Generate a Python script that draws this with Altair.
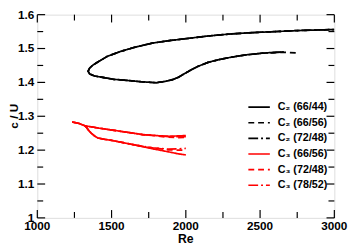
import altair as alt
import pandas as pd

FONT = "Liberation Sans"

series_names = ["C₂ (66/44)", "C₂ (66/56)", "C₂ (72/48)", "C₃ (66/56)", "C₃ (72/48)", "C₃ (78/52)"]
series_colors = ["#000000", "#000000", "#000000", "#ff0000", "#ff0000", "#ff0000"]
series_dashes = [[1, 0], [6, 4], [10, 3, 2, 3], [1, 0], [6, 4], [10, 3, 2, 3]]

# C2 : lower branch (from its end back to the nose) followed by the upper branch
c2_lower_re = [2000, 1950, 1910, 1861, 1800, 1700, 1600, 1515, 1450, 1385, 1352, 1342]
c2_lower_c = [1.428, 1.415, 1.408, 1.403, 1.399, 1.402, 1.406, 1.409, 1.414, 1.419, 1.425, 1.433]
c2_tail_re = [2660, 2600, 2510, 2400, 2300, 2220, 2150, 2080, 2040]
c2_tail_c_6644 = [1.490, 1.489, 1.486, 1.481, 1.474, 1.467, 1.459, 1.447, 1.438]
c2_tail_re_6656 = [2740, 2660, 2600, 2510, 2400, 2300, 2220, 2150, 2080, 2040]
c2_tail_c_6656 = [1.487, 1.489, 1.488, 1.486, 1.481, 1.474, 1.467, 1.459, 1.447, 1.438]
c2_tail_re_7248 = [2640, 2600, 2510, 2400, 2300, 2220, 2150, 2080, 2040]
c2_tail_c_7248 = [1.489, 1.488, 1.486, 1.481, 1.474, 1.467, 1.459, 1.447, 1.438]
c2_upper_re = [1352, 1374, 1407, 1472, 1558, 1650, 1774, 1900, 2000, 2150, 2300, 2450, 2600, 2750, 3000]
c2_upper_c = [1.442, 1.451, 1.460, 1.477, 1.491, 1.503, 1.516, 1.524, 1.529, 1.537, 1.543, 1.547, 1.550, 1.553, 1.556]

# C3 : upper and lower branches
c3_upper_re = [1234, 1280, 1320, 1400, 1493, 1600, 1709, 1800, 1883, 1950, 2000]
c3_upper_c_6656 = [1.283, 1.279, 1.272, 1.266, 1.260, 1.253, 1.246, 1.243, 1.241, 1.242, 1.243]
c3_upper_c_7248 = [1.283, 1.279, 1.272, 1.266, 1.260, 1.253, 1.246, 1.242, 1.238, 1.237, 1.238]
c3_upper_c_7852 = [1.283, 1.279, 1.272, 1.266, 1.260, 1.253, 1.246, 1.243, 1.240, 1.240, 1.240]
c3_lower_re = [1320, 1333, 1348, 1363, 1385, 1407, 1450, 1500, 1602, 1700, 1775, 1883, 1950, 2000]
c3_lower_c_6656 = [1.272, 1.266, 1.257, 1.250, 1.242, 1.236, 1.232, 1.229, 1.220, 1.211, 1.204, 1.195, 1.189, 1.186]
c3_lower_c_7248 = [1.272, 1.266, 1.257, 1.250, 1.242, 1.236, 1.232, 1.229, 1.220, 1.212, 1.207, 1.201, 1.200, 1.200]
c3_lower_c_7852 = [1.272, 1.266, 1.257, 1.250, 1.242, 1.236, 1.232, 1.229, 1.220, 1.212, 1.207, 1.203, 1.204, 1.205]

x_major = [1000, 1500, 2000, 2500, 3000]
x_minor = [1250, 1750, 2250, 2750]
y_major = [1.0, 1.1, 1.2, 1.3, 1.4, 1.5, 1.6]
y_minor = [1.05, 1.15, 1.25, 1.35, 1.45, 1.55]
x_title = ["Re"]
y_title = ["c / U"]

rows = []


def add(series, branch, res, cs):
    for i, (r, c) in enumerate(zip(res, cs)):
        rows.append({"series": series, "branch": branch, "i": i, "Re": r, "c": c})


add(series_names[0], "a", c2_tail_re + c2_lower_re + c2_upper_re, c2_tail_c_6644 + c2_lower_c + c2_upper_c)
add(series_names[1], "b", c2_tail_re_6656 + c2_lower_re + c2_upper_re, c2_tail_c_6656 + c2_lower_c + c2_upper_c)
add(series_names[2], "c", c2_tail_re_7248 + c2_lower_re + c2_upper_re, c2_tail_c_7248 + c2_lower_c + c2_upper_c)
add(series_names[3], "d1", c3_upper_re, c3_upper_c_6656)
add(series_names[3], "d2", c3_lower_re, c3_lower_c_6656)
add(series_names[4], "e1", c3_upper_re, c3_upper_c_7248)
add(series_names[4], "e2", c3_lower_re, c3_lower_c_7248)
add(series_names[5], "f1", c3_upper_re, c3_upper_c_7852)
add(series_names[5], "f2", c3_lower_re, c3_lower_c_7852)
df = pd.DataFrame(rows)

W, H = 304, 208
X0, X1 = 1000, 3000
Y0, Y1 = 1.0, 1.6
xs = alt.Scale(domain=[X0, X1], nice=False, zero=False)
ys = alt.Scale(domain=[Y0, Y1], nice=False, zero=False)
ypp = (Y1 - Y0) / H   # data units per pixel, y
xpp = (X1 - X0) / W   # data units per pixel, x

legend = alt.Legend(
    title=None, orient="none", legendX=215, legendY=87, symbolType="stroke",
    symbolSize=484, symbolStrokeWidth=1.7, labelFont=FONT, labelFontWeight="bold",
    labelFontSize=11, labelColor="#000", labelOffset=7, rowPadding=0, padding=0,
    clipHeight=15.3,
)

lines = alt.Chart(df).mark_line(strokeWidth=1.7, clip=True).encode(
    x=alt.X("Re:Q", scale=xs, axis=None),
    y=alt.Y("c:Q", scale=ys, axis=None),
    color=alt.Color("series:N", scale=alt.Scale(domain=series_names, range=series_colors), legend=legend),
    strokeDash=alt.StrokeDash("series:N", scale=alt.Scale(domain=series_names, range=series_dashes), legend=legend),
    detail="branch:N",
    order="i:Q",
)

tick_color = "#000"


def xticks(vals, length):
    out = []
    for a, b in [(Y0, Y0 + length * ypp), (Y1, Y1 - length * ypp)]:
        d = pd.DataFrame({"v": vals, "a": [a] * len(vals), "b": [b] * len(vals)})
        out.append(alt.Chart(d).mark_rule(color=tick_color, strokeWidth=1.2).encode(
            x=alt.X("v:Q", scale=xs, axis=None),
            y=alt.Y("a:Q", scale=ys, axis=None),
            y2="b:Q"))
    return out


def yticks(vals, length):
    out = []
    for a, b in [(X0, X0 + length * xpp), (X1, X1 - length * xpp)]:
        d = pd.DataFrame({"v": vals, "a": [a] * len(vals), "b": [b] * len(vals)})
        out.append(alt.Chart(d).mark_rule(color=tick_color, strokeWidth=1.2).encode(
            y=alt.Y("v:Q", scale=ys, axis=None),
            x=alt.X("a:Q", scale=xs, axis=None),
            x2="b:Q"))
    return out


tick_layers = xticks(x_major, 8) + xticks(x_minor, 6) + yticks(y_major, 8) + yticks(y_minor, 6)

# tick labels and axis titles, drawn as text through the same scales
xl = pd.DataFrame({"v": x_major, "t": [str(v) for v in x_major], "p": [Y0 - 3 * ypp] * len(x_major)})
yl = pd.DataFrame({"v": y_major, "t": [f"{v:g}" for v in y_major], "p": [X0 - 3 * xpp] * len(y_major)})
xt = pd.DataFrame({"v": [(X0 + X1) / 2], "t": x_title, "p": [Y0 - 15.5 * ypp]})
yt = pd.DataFrame({"v": [(Y0 + Y1) / 2], "t": y_title, "p": [X0 - 23.5 * xpp]})

txt = dict(font=FONT, fontWeight="bold", color="#000")
x_labels = alt.Chart(xl).mark_text(fontSize=12, align="center", baseline="top", **txt).encode(
    x=alt.X("v:Q", scale=xs, axis=None), y=alt.Y("p:Q", scale=ys, axis=None), text="t:N")
y_labels = alt.Chart(yl).mark_text(fontSize=12, align="right", baseline="middle", **txt).encode(
    y=alt.Y("v:Q", scale=ys, axis=None), x=alt.X("p:Q", scale=xs, axis=None), text="t:N")
x_tl = alt.Chart(xt).mark_text(fontSize=12.5, align="center", baseline="top", **txt).encode(
    x=alt.X("v:Q", scale=xs, axis=None), y=alt.Y("p:Q", scale=ys, axis=None), text="t:N")
y_tl = alt.Chart(yt).mark_text(fontSize=12, align="center", baseline="middle", angle=270, **txt).encode(
    y=alt.Y("v:Q", scale=ys, axis=None), x=alt.X("p:Q", scale=xs, axis=None), text="t:N")

chart = alt.layer(lines, *tick_layers, x_labels, y_labels, x_tl, y_tl).properties(
    width=W, height=H,
    autosize=alt.AutoSizeParams(type="none"),
    padding={"left": 30, "top": 4, "right": 15, "bottom": 27},
).configure_view(stroke="#222", strokeWidth=1.5).configure(background="white")

chart.save("out.html", embed_options={"renderer": "svg", "actions": False})
